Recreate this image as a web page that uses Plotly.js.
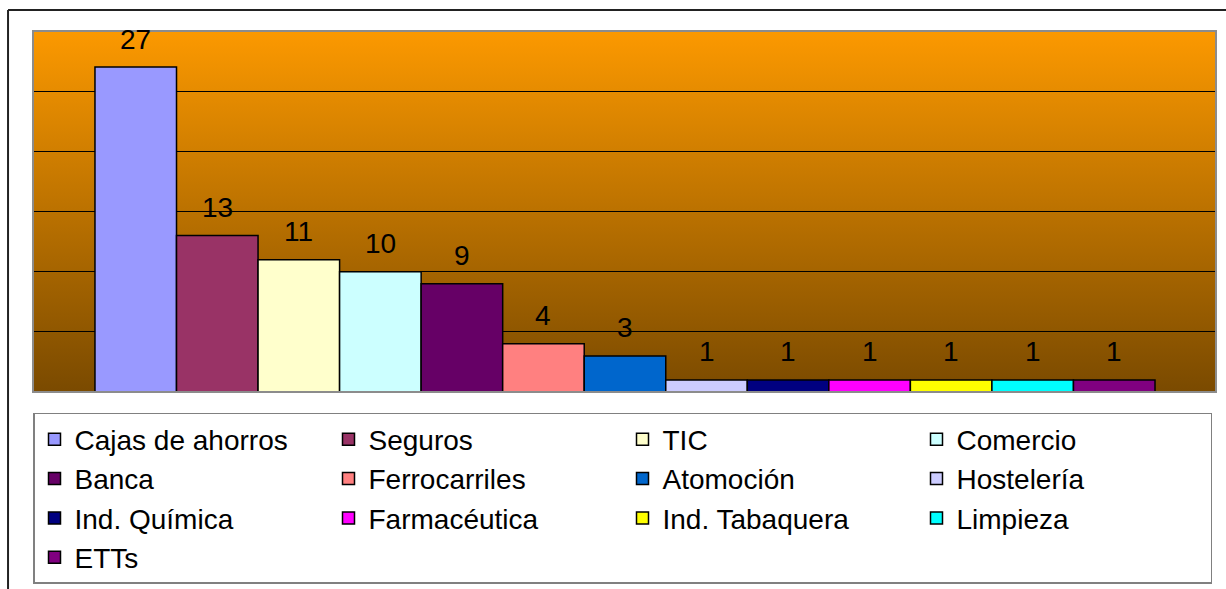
<!DOCTYPE html>
<html>
<head>
<meta charset="utf-8">
<script src="https://cdn.plot.ly/plotly-3.0.1.min.js"></script>
<style>html,body{margin:0;padding:0;background:#fff;}#chart{width:1226px;height:589px;}</style>
</head>
<body>
<div id="chart"></div>
<script>
const categories = ["Cajas de ahorros","Seguros","TIC","Comercio","Banca","Ferrocarriles","Atomoción","Hostelería","Ind. Química","Farmacéutica","Ind. Tabaquera","Limpieza","ETTs"];
const values = [27,13,11,10,9,4,3,1,1,1,1,1,1];
const colors = ["#9999FF","#993366","#FFFFCC","#CCFFFF","#660066","#FF8080","#0066CC","#CCCCFF","#000080","#FF00FF","#FFFF00","#00FFFF","#800080"];

const FONT = "Liberation Sans, Arial, sans-serif";

const traces = categories.map((c, i) => ({
  type: "bar",
  name: c,
  x: [c],
  y: [values[i]],
  marker: {color: colors[i], line: {color: "#000", width: 1.5}},
  hoverinfo: "name+y"
}));

const annotations = categories.map((c, i) => ({
  x: c, y: values[i], xref: "x", yref: "y",
  text: String(values[i]), showarrow: false,
  yanchor: "middle", yshift: 28,
  font: {family: FONT, size: 28, color: "#000"}
}));

// gradient background image (orange to brown)
const gradSvg = '<svg xmlns="http://www.w3.org/2000/svg" width="100" height="100" preserveAspectRatio="none" viewBox="0 0 100 100">' +
  '<defs><linearGradient id="g" x1="0" y1="0" x2="0" y2="1">' +
  '<stop offset="0" stop-color="#FC9900"/><stop offset="1" stop-color="#7A4A00"/>' +
  '</linearGradient></defs><rect width="100" height="100" fill="url(#g)"/></svg>';
const gradSrc = "data:image/svg+xml;charset=utf-8," + encodeURIComponent(gradSvg);

const shapes = [
  // plot area border
  {type: "rect", xref: "paper", yref: "paper", layer: "above",
   x0: 0, x1: 1, y0: 0, y1: 1, line: {color: "#8c8c8c", width: 2}},
  // outer chart frame (top and left edges)
  {type: "line", xref: "paper", yref: "paper", x0: -0.0211, x1: 1.02, y0: 1.058, y1: 1.058, line: {color: "#222", width: 2}},
  {type: "line", xref: "paper", yref: "paper", x0: -0.0211, x1: -0.0211, y0: 1.058, y1: -0.56, line: {color: "#222", width: 2}}
];

const layout = {
  width: 1226, height: 589,
  margin: {l: 33, r: 10, t: 31, b: 197, autoexpand: false},
  paper_bgcolor: "#fff",
  plot_bgcolor: "rgba(0,0,0,0)",
  barmode: "overlay",
  bargap: 0,
  showlegend: true,
  xaxis: {type: "category", range: [-1.26, 13.248], showticklabels: false, showgrid: false, zeroline: false, ticks: "", fixedrange: true},
  yaxis: {range: [0, 30], dtick: 5, showticklabels: false, showgrid: true, gridcolor: "#000", gridwidth: 1, zeroline: false, ticks: "", fixedrange: true},
  legend: {
    orientation: "h", x: 0, xanchor: "left", y: -0.058, yanchor: "top",
    bgcolor: "#fff", bordercolor: "#808080", borderwidth: 1.5,
    entrywidth: 249, entrywidthmode: "pixels",
    font: {family: FONT, size: 28, color: "#000"},
    traceorder: "normal"
  },
  images: [{source: gradSrc, xref: "paper", yref: "paper", x: 0, y: 1, sizex: 1, sizey: 1,
            xanchor: "left", yanchor: "top", sizing: "stretch", layer: "below"}],
  annotations: annotations,
  shapes: shapes,
  font: {family: FONT}
};

Plotly.newPlot("chart", traces, layout, {displayModeBar: false, staticPlot: true});
</script>
</body>
</html>
